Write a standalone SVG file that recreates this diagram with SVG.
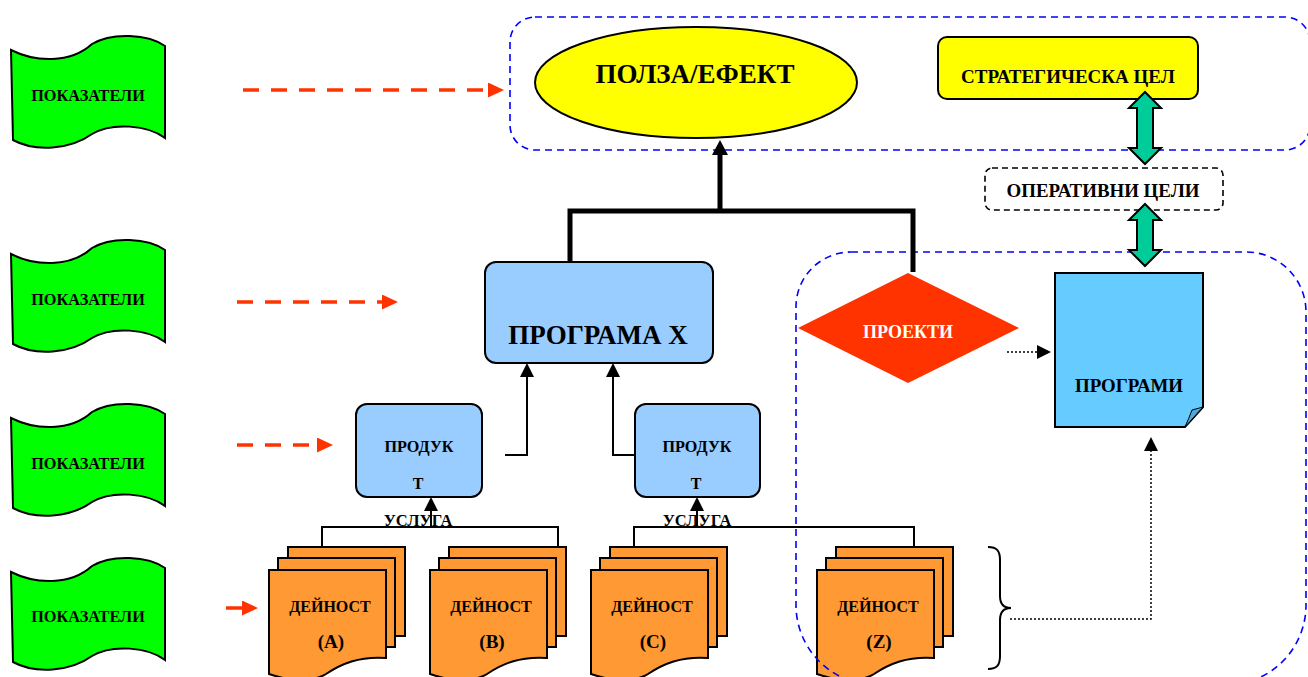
<svg xmlns="http://www.w3.org/2000/svg" xmlns:xlink="http://www.w3.org/1999/xlink" width="1308" height="677" viewBox="0 0 1308 677">
<style>
text{font-family:"Liberation Serif","Times New Roman",serif;font-weight:bold;fill:#000;text-anchor:middle}
.flag{fill:#00FF00;stroke:#000;stroke-width:2}
.doc{fill:#FF9933;stroke:#000;stroke-width:2}
.blue{fill:#99CCFF;stroke:#000;stroke-width:2}
.region{fill:none;stroke:#0000FF;stroke-width:1.6;stroke-dasharray:7,5}
.red{fill:none;stroke:#FF3300;stroke-width:3.5}
.thick{fill:none;stroke:#000;stroke-width:5}
.thin{fill:none;stroke:#000;stroke-width:2}
.dot{fill:none;stroke:#000;stroke-width:1.5;stroke-dasharray:2,2}
.dbl{fill:#00CC99;stroke:#000;stroke-width:2}
</style>
<defs>
<marker id="redHead" markerUnits="userSpaceOnUse" markerWidth="17" markerHeight="16" refX="0" refY="7.5" orient="auto"><path d="M0,0 L16,7.5 L0,15 Z" fill="#FF3300"/></marker>
<marker id="blkHead" markerUnits="userSpaceOnUse" markerWidth="16" markerHeight="16" refX="0" refY="7" orient="auto"><path d="M0,0 L14,7 L0,14 Z" fill="#000"/></marker>
<marker id="bigHead" markerUnits="userSpaceOnUse" markerWidth="18" markerHeight="18" refX="0" refY="8" orient="auto"><path d="M0,0 L15,8 L0,16 Z" fill="#000"/></marker>
<path id="flagShape" d="M11,50 C35,62 70,64 92,44 C112,32 148,34 165,46 L165,138 C148,125 112,122 92,134 C70,150 35,152 13,140 Z"/>
<g id="stack">
<rect x="19" y="-23" width="117" height="89"/>
<rect x="9" y="-12" width="117" height="89"/>
<path d="M0,0 H117 V88 C90,86 72,94 57,104 C42,113 20,111 0,104 Z"/>
</g>
</defs>

<g id="stack-a"><use xlink:href="#stack" href="#stack" class="doc" transform="translate(269,570)"/><text x="330" y="612" font-size="16">ДЕЙНОСТ</text><text x="331" y="648" font-size="19">(A)</text></g>
<g id="stack-b"><use xlink:href="#stack" href="#stack" class="doc" transform="translate(430,570)"/><text x="491" y="612" font-size="16">ДЕЙНОСТ</text><text x="492" y="648" font-size="19">(B)</text></g>
<g id="stack-c"><use xlink:href="#stack" href="#stack" class="doc" transform="translate(591,570)"/><text x="652" y="612" font-size="16">ДЕЙНОСТ</text><text x="653" y="648" font-size="19">(C)</text></g>
<g id="stack-z"><use xlink:href="#stack" href="#stack" class="doc" transform="translate(817,570)"/><text x="878" y="612" font-size="16">ДЕЙНОСТ</text><text x="879" y="648" font-size="19">(Z)</text></g>

<g id="region-top"><rect class="region" x="510" y="17" width="800" height="133" rx="25"/></g>
<g id="region-right"><path class="region" d="M851,252 H1246 A60,60 0 0 1 1306,312 V605 A80,80 0 0 1 1226,685 H876 A80,80 0 0 1 796,605 V307 A55,55 0 0 1 851,252 Z"/></g>

<g id="flag-1"><use xlink:href="#flagShape" href="#flagShape" class="flag"/><text x="88" y="101" font-size="16.3">ПОКАЗАТЕЛИ</text></g>
<g id="flag-2"><use xlink:href="#flagShape" href="#flagShape" class="flag" transform="translate(0,204)"/><text x="88" y="305" font-size="16.3">ПОКАЗАТЕЛИ</text></g>
<g id="flag-3"><use xlink:href="#flagShape" href="#flagShape" class="flag" transform="translate(0,368)"/><text x="88" y="469" font-size="16.3">ПОКАЗАТЕЛИ</text></g>
<g id="flag-4"><use xlink:href="#flagShape" href="#flagShape" class="flag" transform="translate(0,522)"/><text x="88" y="622" font-size="16.3">ПОКАЗАТЕЛИ</text></g>

<g id="polza"><ellipse cx="696" cy="82.5" rx="161" ry="55.5" fill="#FFFF00" stroke="#000" stroke-width="2"/><text x="695" y="83" font-size="27">ПОЛЗА/ЕФЕКТ</text></g>
<g id="strategic"><rect x="938" y="37" width="260" height="62" rx="9" fill="#FFFF00" stroke="#000" stroke-width="2"/><text x="1068" y="83" font-size="19">СТРАТЕГИЧЕСКА ЦЕЛ</text></g>
<g id="operative"><rect x="985" y="168" width="238" height="42" rx="7" fill="#fff" stroke="#000" stroke-width="1.6" stroke-dasharray="6,4"/><text x="1103" y="197" font-size="18.9">ОПЕРАТИВНИ ЦЕЛИ</text></g>
<g id="programa-x"><rect class="blue" x="485" y="262" width="228" height="101" rx="11"/><text x="598" y="344" font-size="27">ПРОГРАМА Х</text></g>
<g id="proekti"><path d="M798,328 L908,273 L1019,328 L908,383 Z" fill="#FF3300"/><text x="908" y="338" font-size="18" style="fill:#fff">ПРОЕКТИ</text></g>
<g id="programi"><path d="M1055,273 H1203 V407 L1185,427 H1055 Z" fill="#66CCFF" stroke="#000" stroke-width="2"/><path d="M1185,427 L1203,407 L1192,410 Q1189,418 1185,427 Z" fill="#4FA8D8" stroke="#000" stroke-width="1"/><text x="1129" y="392" font-size="18.9">ПРОГРАМИ</text></g>
<g id="product-1"><rect class="blue" x="356" y="404" width="126" height="93" rx="11"/><text x="419" y="452" font-size="16.2">ПРОДУК</text><text x="418" y="489" font-size="16">Т</text></g>
<g id="product-2"><rect class="blue" x="635" y="404" width="125" height="93" rx="11"/><text x="697" y="452" font-size="16.2">ПРОДУК</text><text x="696" y="489" font-size="16">Т</text></g>
<g id="brace"><path d="M988,547 C997,547 1000,551 1000,560 V596 C1000,604 1004,608 1011,608 C1004,608 1000,612 1000,620 V656 C1000,665 997,669 988,669" fill="none" stroke="#000" stroke-width="2"/></g>

<g id="connectors">
<line class="red" x1="243" y1="90" x2="488" y2="90" stroke-dasharray="16,12" marker-end="url(#redHead)"/>
<line class="red" x1="237" y1="302" x2="382" y2="302" stroke-dasharray="16,12" marker-end="url(#redHead)"/>
<line class="red" x1="237" y1="445" x2="317" y2="445" stroke-dasharray="16,12" marker-end="url(#redHead)"/>
<line class="red" x1="226" y1="608" x2="242" y2="608" marker-end="url(#redHead)"/>
<path class="thick" d="M570,261 V211 H913 V272"/>
<line class="thick" x1="720" y1="211" x2="720" y2="155" marker-end="url(#bigHead)"/>
<path class="thin" d="M505,455 H527 V377" marker-end="url(#blkHead)"/>
<path class="thin" d="M635,455 H613 V377" marker-end="url(#blkHead)"/>
<path class="thin" d="M322,547 V527 H558 V547"/>
<path class="thin" d="M634,547 V527 H914 V547"/>
<line class="thin" x1="431" y1="527" x2="431" y2="511" marker-end="url(#blkHead)"/>
<line class="thin" x1="697" y1="527" x2="697" y2="511" marker-end="url(#blkHead)"/>
<line class="dot" x1="1007" y1="352" x2="1037" y2="352" marker-end="url(#blkHead)"/>
<path class="dot" d="M1010,619 H1151 V451" marker-end="url(#blkHead)"/>
<path class="dbl" d="M1145,92 L1161,108 L1153,108 L1153,148 L1161,148 L1145,164 L1129,148 L1137,148 L1137,108 L1129,108 Z"/>
<path class="dbl" d="M1145,204 L1161,220 L1153,220 L1153,250 L1161,250 L1145,266 L1129,250 L1137,250 L1137,220 L1129,220 Z"/>
</g>
<text x="418" y="526" font-size="16.5">УСЛУГА</text>
<text x="697" y="526" font-size="16.5">УСЛУГА</text>
</svg>
